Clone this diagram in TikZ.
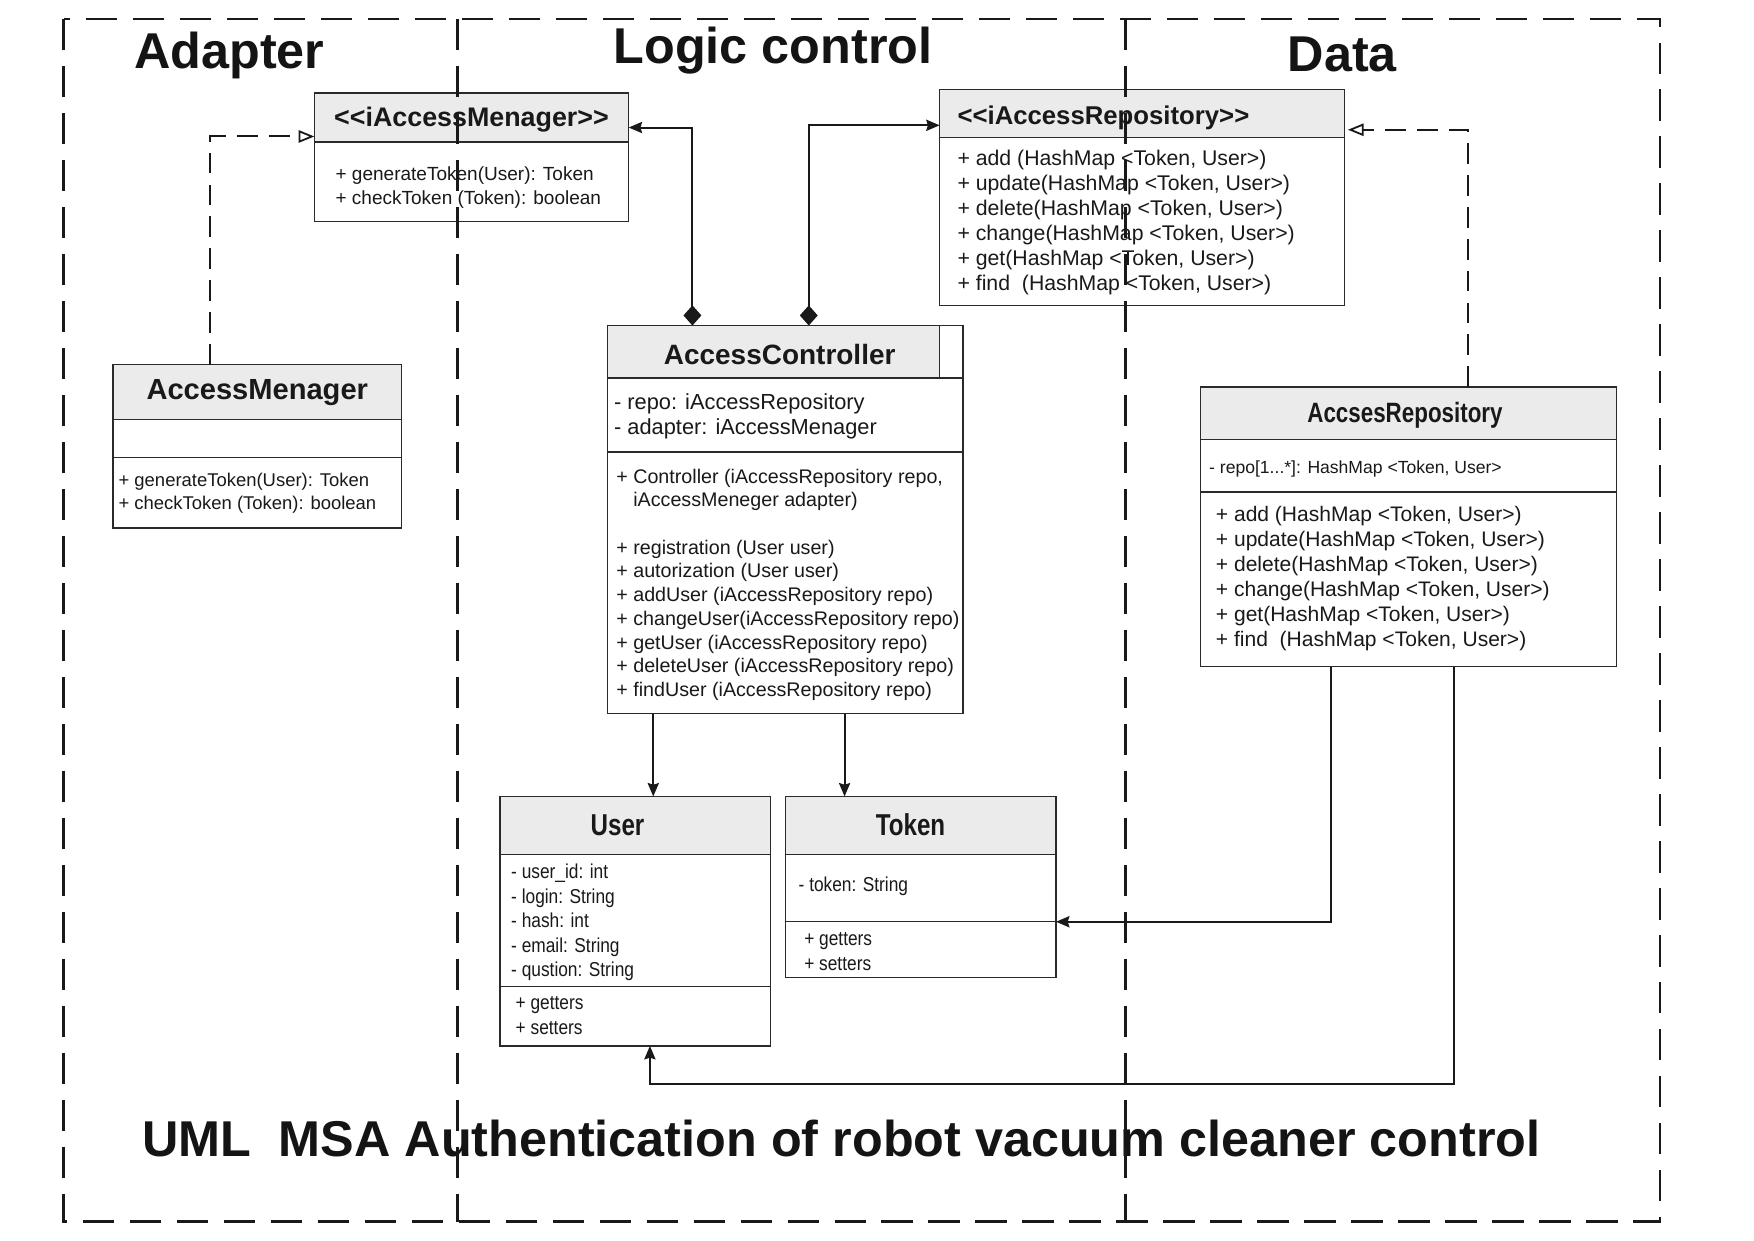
\documentclass[tikz,border=0pt]{standalone}
\usepackage{fontspec}
\setmainfont{Liberation Sans}
\newfontfamily\condT[FakeStretch=0.8]{Liberation Sans}
\newfontfamily\condB[FakeStretch=0.86]{Liberation Sans}
\usetikzlibrary{arrows.meta,calc}
\definecolor{hdr}{HTML}{EBEBEB}
\definecolor{edge}{HTML}{2A2A2A}
\tikzset{
  cbox/.style={draw=edge, line width=1.3pt, fill=white, inner sep=0pt, outer sep=0pt, anchor=north west},
  chead/.style={draw=edge, line width=1.3pt, fill=hdr, inner sep=0pt, outer sep=0pt, anchor=north west},
  sepline/.style={draw=edge, line width=1.3pt},
  ctext/.style={inner sep=0pt, outer sep=0pt, anchor=west, align=left, text=black!90, yshift=-2.2pt},
  ttl/.style={inner sep=0pt, outer sep=0pt, text=black!90},
  conn/.style={draw=black!90, line width=1.8pt},
  tipx/.style={-{Stealth[length=12pt, width=10pt, inset=1.5pt]}},
  comp/.style={{Diamond[length=18pt, width=16pt]}-{Stealth[length=12pt, width=10pt, inset=1.5pt]}},
  realize/.style={draw=black!90, line width=1.8pt, dash pattern=on 18.5pt off 10pt,
     -{Triangle[open, length=14pt, width=11pt, line width=1.6pt]}},
  zone/.style={draw=black!90, line width=2.4pt, dash pattern=on 28pt off 14pt},
  zonettl/.style={font=\fontsize{45}{50}\selectfont\bfseries, anchor=base, inner sep=0pt, text=black!92},
}
\begin{document}
\begin{tikzpicture}[x=1pt,y=-1pt]
\useasboundingbox (0,0) rectangle (1568,1109);
\fill[white] (0,0) rectangle (1568,1109);

% ---------- iAccessMenager ----------
\node[cbox, minimum width=281pt, minimum height=115pt] (iam) at (281,83) {};
\node[chead, minimum width=281pt, minimum height=44pt] (iamh) at (281,83) {};
\node[ttl, font=\fontsize{24}{28}\selectfont\bfseries, yshift=-1.5pt] (iamt) at (iamh.center) {<\kern0pt<iAccessMenager>\kern0pt>};
\node[ctext, font=\fontsize{17}{22}\selectfont] (iamb) at (300,165.5) {+ generateToken(User): Token\\+ checkToken (Token): boolean};

% ---------- iAccessRepository ----------
\node[cbox, minimum width=362pt, minimum height=193pt] (iar) at (840,80) {};
\node[chead, minimum width=362pt, minimum height=43pt] (iarh) at (840,80) {};
\node[ttl, anchor=west, font=\fontsize{23}{27}\selectfont\bfseries] (iart) at (856,105) {<\kern0pt<iAccessRepository>\kern0pt>};
\node[ctext, font=\fontsize{19}{22.3}\selectfont] (iarb) at (856,196.5) {+ add (HashMap <Token, User>)\\+ update(HashMap <Token, User>)\\+ delete(HashMap <Token, User>)\\+ change(HashMap <Token, User>)\\+ get(HashMap <Token, User>)\\+ find\ \ (HashMap <Token, User>)};

% ---------- AccessMenager ----------
\node[cbox, minimum width=258pt, minimum height=146pt] (am) at (101,326) {};
\node[chead, minimum width=258pt, minimum height=49pt] (amh) at (101,326) {};
\draw[sepline] ($(am.north west)+(0,83)$) -- ($(am.north east)+(0,83)$);
\node[ttl, font=\fontsize{26}{30}\selectfont\bfseries] (amt) at (amh.center) {AccessMenager};
\node[ctext, font=\fontsize{16.5}{21}\selectfont] (amb) at (106,438.5) {+ generateToken(User): Token\\+ checkToken (Token): boolean};

% ---------- AccessController ----------
\node[cbox, minimum width=318pt, minimum height=347pt] (ac) at (543,291) {};
\node[chead, minimum width=297pt, minimum height=47pt] (ach) at (543,291) {};
\draw[sepline] ($(ac.north west)+(0,47)$) -- ($(ac.north east)+(0,47)$);
\draw[sepline] ($(ac.north west)+(0,113)$) -- ($(ac.north east)+(0,113)$);
\node[ttl, font=\fontsize{25}{29}\selectfont\bfseries] (act) at (697,317) {AccessController};
\node[ctext, font=\fontsize{19.5}{23}\selectfont] (aca) at (549,370) {- repo: iAccessRepository\\- adapter: iAccessMenager};
\node[ctext, font=\fontsize{17.6}{21.2}\selectfont] (acm) at (551,520.5) {+ Controller (iAccessRepository repo,\\\phantom{+ }iAccessMeneger adapter)\\[21.2pt]+ registration (User user)\\+ autorization (User user)\\+ addUser (iAccessRepository repo)\\+ changeUser(iAccessRepository repo)\\+ getUser (iAccessRepository repo)\\+ deleteUser (iAccessRepository repo)\\+ findUser (iAccessRepository repo)};

% ---------- AccsesRepository ----------
\node[cbox, minimum width=372pt, minimum height=250pt] (ar) at (1073,346) {};
\node[chead, minimum width=372pt, minimum height=47pt] (arh) at (1073,346) {};
\draw[sepline] ($(ar.north west)+(0,94)$) -- ($(ar.north east)+(0,94)$);
\node[ttl, font=\condT\fontsize{25}{29}\selectfont\bfseries] (art) at (1256,371) {AccsesRepository};
\node[ctext, font=\fontsize{15.7}{20}\selectfont] (ara) at (1081,417) {- repo[1...*]: HashMap <Token, User>};
\node[ctext, font=\fontsize{18.8}{22.2}\selectfont] (arm) at (1087,515) {+ add (HashMap <Token, User>)\\+ update(HashMap <Token, User>)\\+ delete(HashMap <Token, User>)\\+ change(HashMap <Token, User>)\\+ get(HashMap <Token, User>)\\+ find\ \ (HashMap <Token, User>)};

% ---------- User ----------
\node[cbox, minimum width=242pt, minimum height=223pt] (user) at (447,712) {};
\node[chead, minimum width=242pt, minimum height=52pt] (userh) at (447,712) {};
\draw[sepline] ($(user.north west)+(0,170)$) -- ($(user.north east)+(0,170)$);
\node[ttl, font=\condT\fontsize{27}{31}\selectfont\bfseries] (usert) at (552,738) {User};
\node[ctext, font=\condB\fontsize{18}{22}\selectfont] (usera) at (457,822.5) {- user\_id: int\\- login: String\\- hash: int\\- email: String\\- qustion: String};
\node[ctext, font=\condB\fontsize{18}{22}\selectfont] (userm) at (461,905.5) {+ getters\\+ setters};

% ---------- Token ----------
\node[cbox, minimum width=242pt, minimum height=162pt] (tok) at (702,712) {};
\node[chead, minimum width=242pt, minimum height=52pt] (tokh) at (702,712) {};
\draw[sepline] ($(tok.north east)+(0,112)$) -- ($(tok.north west)+(0,112)$);
\node[ttl, font=\condT\fontsize{27}{31}\selectfont\bfseries] (tokt) at (814,737.5) {Token};
\node[ctext, font=\condB\fontsize{18}{22}\selectfont] (toka) at (714,790) {- token: String};
\node[ctext, font=\condB\fontsize{18}{22}\selectfont] (tokm) at (719,848.5) {+ getters\\+ setters};

% ---------- connectors ----------
\coordinate (amUp) at ($(am.north west)+(87,0)$);
\coordinate (iamIn) at ($(iam.north west)+(0,39)$);
\draw[realize] (amUp) |- (iamIn);

\coordinate (acL) at ($(ac.north west)+(76,0)$);
\coordinate (iamR) at ($(iam.north east)+(0,31)$);
\draw[conn, comp] (acL) |- (iamR);

\coordinate (acR) at ($(ac.north west)+(180,0)$);
\coordinate (iarL) at ($(iar.north west)+(0,32)$);
\draw[conn, comp] (acR) |- (iarL);

\coordinate (acU) at ($(ac.south west)+(41,0)$);
\draw[conn, tipx] (acU) -- (acU |- user.north);
\coordinate (acT) at ($(ac.south west)+(212,0)$);
\draw[conn, tipx] (acT) -- (acT |- tok.north);

\coordinate (arT) at ($(ar.south west)+(117,0)$);
\coordinate (tokR) at ($(tok.north east)+(0,112)$);
\draw[conn, tipx] (arT) |- (tokR);

\coordinate (arU) at ($(ar.south west)+(227,0)$);
\coordinate (userB) at ($(user.south west)+(134,0)$);
\coordinate (userBB) at ($(userB)+(0,34)$);
\draw[conn, tipx] (arU) |- (userBB) -- (userB);

\coordinate (arUp) at ($(ar.north west)+(239,0)$);
\coordinate (iarR) at ($(iar.north east)+(3,36)$);
\draw[realize] (arUp) |- (iarR);

% ---------- zones ----------
\node[zonettl] (zA) at (205,61) {Adapter};
\node[zonettl] (zL) at (691,57) {Logic control};
\node[zonettl] (zD) at (1200,64) {Data};
\node[zonettl] (zT) at (752,1034) {UML\ \ MSA Authentication of robot vacuum cleaner control};

\draw[zone] (57,17) rectangle (1484,1092);
\draw[zone] (409,17) -- (409,1092);
\draw[zone] (1006,17) -- (1006,1092);
\end{tikzpicture}
\end{document}
